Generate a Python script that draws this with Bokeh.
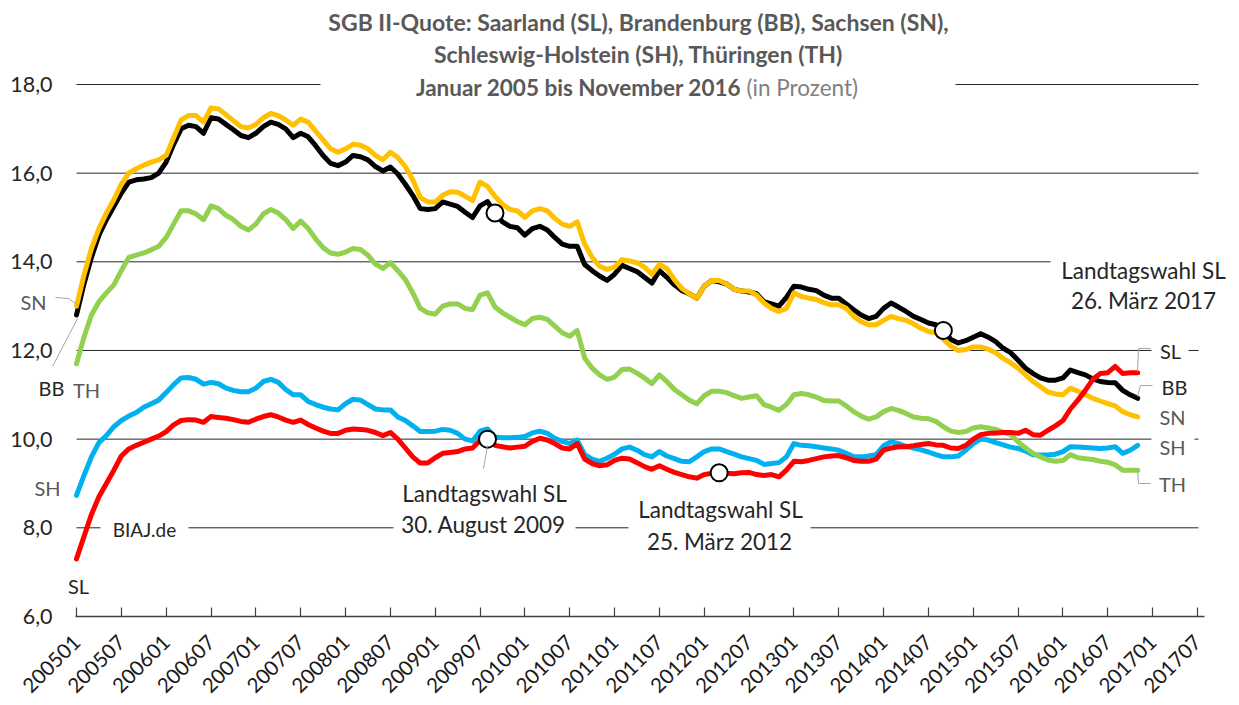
import math
from bokeh.plotting import figure
from bokeh.models import Range1d, FixedTicker, Label, BoxAnnotation, Arrow, ColumnDataSource
from bokeh.embed import file_html
from bokeh.resources import INLINE

# ---------------- data (SGB II-Quote, in Prozent, Jan 2005 .. Nov 2016) ----------------
BB = [12.8, 13.5, 14.1, 14.6, 14.95, 15.25, 15.55, 15.8, 15.85, 15.87, 15.9, 16.0,
      16.25, 16.65, 17.0, 17.08, 17.05, 16.9, 17.25, 17.22, 17.1, 16.98, 16.85, 16.8,
      16.9, 17.05, 17.15, 17.1, 17.0, 16.8, 16.9, 16.82, 16.62, 16.4, 16.22, 16.17,
      16.25, 16.4, 16.37, 16.3, 16.15, 16.05, 16.14, 15.98, 15.75, 15.5, 15.2, 15.18,
      15.2, 15.35, 15.3, 15.25, 15.12, 15.0, 15.26, 15.36, 15.1, 14.9, 14.8, 14.77,
      14.6, 14.75, 14.8, 14.72, 14.55, 14.4, 14.35, 14.35, 13.94, 13.8, 13.68, 13.58,
      13.72, 13.92, 13.85, 13.78, 13.65, 13.52, 13.8, 13.65, 13.48, 13.35, 13.28, 13.18,
      13.45, 13.58, 13.55, 13.5, 13.38, 13.34, 13.32, 13.28, 13.1, 13.05, 13.0, 13.2,
      13.45, 13.43, 13.38, 13.35, 13.25, 13.18, 13.18, 13.05, 12.92, 12.8, 12.72, 12.77,
      12.95, 13.07, 12.98, 12.88, 12.77, 12.7, 12.62, 12.58, 12.45, 12.25, 12.17, 12.22,
      12.3, 12.38, 12.3, 12.2, 12.05, 11.95, 11.78, 11.6, 11.48, 11.38, 11.33, 11.33,
      11.38, 11.56, 11.5, 11.45, 11.36, 11.3, 11.28, 11.27, 11.1, 11.0, 10.92]

SN = [13.0, 13.7, 14.3, 14.75, 15.1, 15.4, 15.75, 16.0, 16.1, 16.18, 16.25, 16.3,
      16.4, 16.8, 17.2, 17.3, 17.3, 17.15, 17.47, 17.45, 17.32, 17.18, 17.05, 17.02,
      17.1, 17.25, 17.35, 17.3, 17.2, 17.08, 17.22, 17.15, 16.95, 16.75, 16.55, 16.47,
      16.55, 16.65, 16.63, 16.55, 16.4, 16.3, 16.47, 16.35, 16.15, 15.85, 15.45, 15.35,
      15.35, 15.5, 15.58, 15.57, 15.48, 15.38, 15.8, 15.7, 15.48, 15.3, 15.18, 15.15,
      15.0, 15.15, 15.2, 15.15, 14.98, 14.85, 14.8, 14.9, 14.4, 14.1, 13.9, 13.83,
      13.88, 14.05, 14.02, 13.98, 13.88, 13.72, 13.94, 13.85, 13.6, 13.4, 13.28, 13.18,
      13.45, 13.58, 13.58, 13.5, 13.38, 13.34, 13.34, 13.25, 13.07, 12.95, 12.88, 12.95,
      13.3, 13.22, 13.18, 13.15, 13.08, 13.03, 13.03, 12.95, 12.77, 12.65, 12.58, 12.58,
      12.68, 12.77, 12.72, 12.68, 12.6, 12.5, 12.43, 12.4, 12.25, 12.1, 12.0, 12.02,
      12.08, 12.08, 12.03, 11.95, 11.82, 11.72, 11.6, 11.45, 11.3, 11.18, 11.06, 11.02,
      11.0, 11.15, 11.08, 11.0, 10.92, 10.86, 10.8, 10.75, 10.62, 10.55, 10.5]

TH = [11.7, 12.3, 12.8, 13.1, 13.3, 13.48, 13.8, 14.1, 14.15, 14.2, 14.27, 14.35,
      14.55, 14.85, 15.15, 15.15, 15.08, 14.95, 15.26, 15.2, 15.05, 14.95, 14.8, 14.72,
      14.85, 15.08, 15.18, 15.1, 14.95, 14.75, 14.92, 14.75, 14.52, 14.32, 14.2, 14.17,
      14.22, 14.3, 14.28, 14.15, 13.95, 13.85, 13.98, 13.8, 13.6, 13.3, 12.95, 12.85,
      12.82, 13.0, 13.05, 13.05, 12.95, 12.92, 13.25, 13.3, 12.98, 12.85, 12.75, 12.65,
      12.58, 12.72, 12.75, 12.7, 12.55, 12.4, 12.32, 12.45, 11.83, 11.6, 11.45, 11.35,
      11.4, 11.57, 11.58, 11.49, 11.38, 11.25, 11.45, 11.3, 11.12, 11.0, 10.88, 10.8,
      10.98, 11.08, 11.08, 11.05, 10.98, 10.92, 10.95, 10.98, 10.78, 10.72, 10.65, 10.78,
      11.0, 11.03, 11.0, 10.95, 10.87, 10.86, 10.86, 10.75, 10.62, 10.52, 10.45, 10.5,
      10.62, 10.69, 10.65, 10.58, 10.5, 10.47, 10.46, 10.4, 10.28, 10.18, 10.15, 10.17,
      10.25, 10.28, 10.25, 10.22, 10.16, 10.1, 9.94, 9.8, 9.68, 9.6, 9.53, 9.5,
      9.52, 9.65, 9.58, 9.56, 9.54, 9.5, 9.48, 9.42, 9.3, 9.3, 9.3]

SH = [8.73, 9.18, 9.6, 9.92, 10.08, 10.28, 10.42, 10.52, 10.6, 10.72, 10.8, 10.88,
      11.05, 11.23, 11.38, 11.39, 11.35, 11.24, 11.28, 11.25, 11.15, 11.1, 11.07, 11.07,
      11.15, 11.3, 11.35, 11.28, 11.12, 11.0, 11.0, 10.85, 10.78, 10.72, 10.68, 10.66,
      10.8, 10.9, 10.88, 10.78, 10.68, 10.66, 10.66, 10.5, 10.42, 10.3, 10.17, 10.17,
      10.18, 10.22, 10.2, 10.13, 10.0, 9.96, 10.18, 10.23, 10.05, 10.03, 10.03, 10.04,
      10.06, 10.14, 10.18, 10.13, 10.02, 9.95, 9.9, 9.98, 9.65, 9.55, 9.5, 9.57,
      9.66, 9.78, 9.82, 9.75, 9.65, 9.6, 9.72, 9.62, 9.56, 9.5, 9.49, 9.6,
      9.72, 9.78, 9.78, 9.72, 9.66, 9.6, 9.56, 9.52, 9.43, 9.45, 9.47, 9.6,
      9.9, 9.86, 9.85, 9.83, 9.8, 9.78, 9.75, 9.68, 9.6, 9.6, 9.62, 9.65,
      9.85, 9.94, 9.9, 9.84, 9.8, 9.76, 9.71, 9.65, 9.6, 9.6, 9.62, 9.75,
      9.9, 10.0, 9.98, 9.92, 9.87, 9.82, 9.79, 9.73, 9.65, 9.64, 9.64, 9.66,
      9.72, 9.83, 9.82, 9.81, 9.8, 9.79, 9.8, 9.83, 9.68, 9.75, 9.86]

SL = [7.3, 7.8, 8.3, 8.7, 9.0, 9.3, 9.62, 9.78, 9.86, 9.93, 10.0, 10.07,
      10.17, 10.32, 10.42, 10.44, 10.43, 10.38, 10.51, 10.49, 10.47, 10.44, 10.4, 10.38,
      10.45, 10.51, 10.55, 10.5, 10.43, 10.38, 10.43, 10.33, 10.25, 10.18, 10.13, 10.13,
      10.2, 10.23, 10.22, 10.2, 10.15, 10.08, 10.15, 10.0, 9.8, 9.6, 9.46, 9.46,
      9.58, 9.68, 9.7, 9.72, 9.78, 9.8, 9.97, 10.0, 9.86, 9.83, 9.8, 9.82,
      9.84, 9.95, 10.02, 9.98, 9.9, 9.8, 9.78, 9.9, 9.55, 9.45, 9.4, 9.42,
      9.52, 9.57, 9.55, 9.47, 9.38, 9.32, 9.4, 9.32, 9.25, 9.2, 9.15, 9.12,
      9.2, 9.23, 9.24, 9.23, 9.22, 9.24, 9.25, 9.2, 9.18, 9.2, 9.15, 9.3,
      9.5, 9.49, 9.52, 9.56, 9.6, 9.62, 9.63, 9.58, 9.52, 9.5, 9.5, 9.55,
      9.75, 9.8, 9.83, 9.83, 9.85, 9.88, 9.9, 9.87, 9.86, 9.8, 9.79, 9.86,
      10.0, 10.1, 10.13, 10.14, 10.15, 10.15, 10.13, 10.2, 10.1, 10.09, 10.2, 10.3,
      10.42, 10.68, 10.88, 11.1, 11.35, 11.48, 11.5, 11.64, 11.48, 11.5, 11.5]

x_tick_labels = ["200501", "200507", "200601", "200607", "200701", "200707", "200801",
                 "200807", "200901", "200907", "201001", "201007", "201101", "201107",
                 "201201", "201207", "201301", "201307", "201401", "201407", "201501",
                 "201507", "201601", "201607", "201701", "201707"]
y_ticks = [6, 8, 10, 12, 14, 16, 18]
y_tick_labels = ["6,0", "8,0", "10,0", "12,0", "14,0", "16,0", "18,0"]

# Landtagswahl markers: (series, month index)
election_marks = [("BB", 56), ("SL", 55), ("SL", 86), ("BB", 116)]

month = list(range(len(BB)))
series = {"BB": BB, "SN": SN, "TH": TH, "SH": SH, "SL": SL}

# ---------------- layout helpers (page pixel -> data) ----------------
FONT = "Lato"
X0_PX, PX_MONTH = 76.0, 7.473
Y18_PX, PX_UNIT = 84.0, 44.33

def dx(xp):
    return (xp - X0_PX) / PX_MONTH

def dy(yp):
    return 18.0 - (yp - Y18_PX) / PX_UNIT

p = figure(width=1239, height=705, output_backend="svg", toolbar_location=None,
           x_range=Range1d(dx(0), dx(1239)), y_range=Range1d(dy(616), dy(0)),
           min_border_left=0, min_border_right=0, min_border_top=0, min_border_bottom=89)
p.outline_line_color = None
p.background_fill_color = "white"
p.border_fill_color = "white"
p.xgrid.visible = False
p.ygrid.visible = False

# horizontal gridlines
grid_y = y_ticks[1:]
p.segment(x0=[dx(76)] * len(grid_y), x1=[dx(1198)] * len(grid_y), y0=grid_y, y1=grid_y,
          line_color="#262626", line_width=1)

# y axis: labels only, pulled inside the left margin
ya = p.yaxis[0]
ya.ticker = FixedTicker(ticks=y_ticks)
ya.major_label_overrides = {t: l for t, l in zip(y_ticks, y_tick_labels)}
ya.major_label_text_font = FONT
ya.major_label_text_font_size = "21.5px"
ya.major_label_text_color = "#262626"
ya.major_label_standoff = -52
ya.axis_line_color = None
ya.major_tick_line_color = None
ya.minor_tick_line_color = None
ya.major_tick_in = 0
ya.major_tick_out = 0

x_ticks = [6 * k for k in range(len(x_tick_labels))]
xa = p.xaxis[0]
xa.bounds = (dx(75), dx(1204))
xa.ticker = FixedTicker(ticks=x_ticks)
xa.major_label_overrides = {t: l for t, l in zip(x_ticks, x_tick_labels)}
xa.major_label_orientation = math.pi / 4
xa.major_label_text_font = FONT
xa.major_label_text_font_size = "20.5px"
xa.major_label_text_color = "#1a1a1a"
xa.major_label_standoff = 22
xa.axis_line_color = "#404040"
xa.axis_line_width = 1.3
xa.major_tick_in = 9
xa.major_tick_out = 0
xa.major_tick_line_color = "#404040"
xa.major_tick_line_width = 1.2
xa.minor_tick_line_color = None

src = ColumnDataSource(dict(month=month, **series))
colors = {"BB": "#000000", "SN": "#FFC000", "SH": "#00B0F0", "TH": "#92D050", "SL": "#FF0000"}
for key in ["BB", "SN", "SH", "TH", "SL"]:
    p.line("month", key, source=src, line_color=colors[key], line_width=5,
           line_join="round", line_cap="round")

mx = [m for _, m in election_marks]
my = [series[k][m] for k, m in election_marks]
p.scatter(mx, my, size=17, fill_color="white", line_color="#000000", line_width=2)

# white boxes interrupting gridlines behind text boxes
for (x1, x2, y1, y2) in [(320, 955, 66, 100), (1050, 1206, 250, 315), (1151, 1188, 340, 360),
                         (1151, 1194, 428, 452), (100, 188, 517, 541), (393, 575, 512, 540),
                         (628, 810, 517, 541)]:
    p.add_layout(BoxAnnotation(left=dx(x1), right=dx(x2), top=dy(y1), bottom=dy(y2),
                               fill_color="white", fill_alpha=1.0, line_alpha=0))

GRAY_LEAD = "#A6A6A6"
for pts in [[(55, 297), (68, 298), (78, 305)], [(52, 366), (77, 318)], [(483, 468), (487, 445)],
            [(1137, 371), (1138, 348), (1150, 348)], [(1137, 396), (1140, 385), (1152, 385)],
            [(1137, 468), (1138, 483), (1150, 483)]]:
    for (a, b) in zip(pts[:-1], pts[1:]):
        p.add_layout(Arrow(x_start=dx(a[0]), y_start=dy(a[1]), x_end=dx(b[0]), y_end=dy(b[1]),
                           start=None, end=None, line_color=GRAY_LEAD, line_width=1))

def lab(text, xp, yp, size=20, color="#262626", bold=False, align="center"):
    p.add_layout(Label(x=dx(xp), y=dy(yp), text=text, text_font=FONT,
                       text_font_size=f"{size}px", text_color=color,
                       text_font_style="bold" if bold else "normal",
                       text_align=align, text_baseline="middle"))

TG = "#595959"
lab("SGB II-Quote: Saarland (SL), Brandenburg (BB), Sachsen (SN),", 638, 21, 23, TG, True)
lab("Schleswig-Holstein (SH), Thüringen (TH)", 638, 53, 23, TG, True)
lab("Januar 2005 bis November 2016", 741, 87, 22.5, TG, True, "right")
lab("(in Prozent)", 746, 87, 22.5, "#808080", False, "left")

lab("SN", 33, 301, 20, TG)
lab("BB", 51, 387, 20, "#262626")
lab("TH", 86, 389, 20, TG)
lab("SH", 47, 487, 20, TG)
lab("SL", 78, 585, 20, "#262626")
lab("BIAJ.de", 144, 529, 19, "#262626")

lab("Landtagswahl SL", 484, 493, 22.5)
lab("30. August 2009", 483, 524, 22.5)
lab("Landtagswahl SL", 720, 509, 22.5)
lab("25. März 2012", 719, 541, 22.5)
lab("Landtagswahl SL", 1143, 270, 22.5)
lab("26. März 2017", 1143, 300, 22.5)

lab("SL", 1170, 350, 20, "#262626")
lab("BB", 1174, 386, 20, "#262626")
lab("SN", 1172, 416, 20, TG)
lab("SH", 1172, 446, 20, TG)
lab("TH", 1172, 483, 20, TG)

open("out.html", "w").write(file_html(p, INLINE))
